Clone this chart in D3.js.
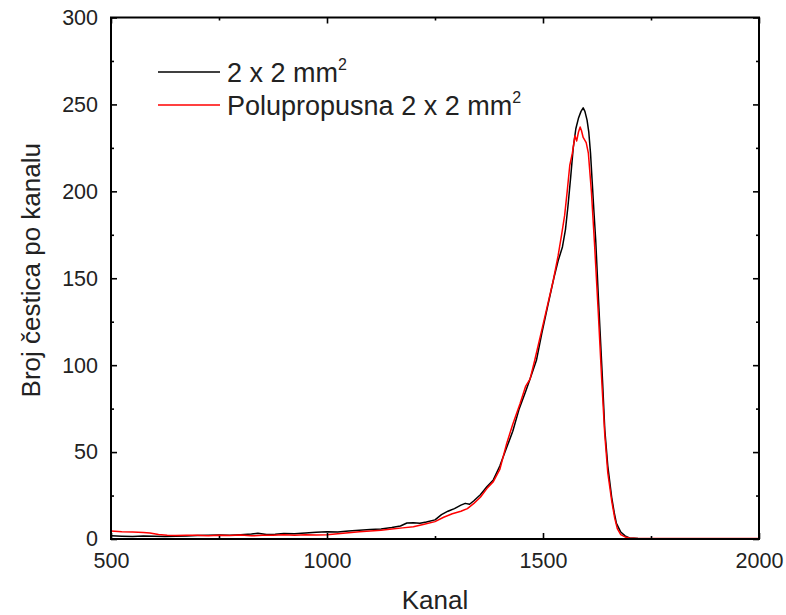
<!DOCTYPE html>
<html><head><meta charset="utf-8">
<script src="https://cdn.jsdelivr.net/npm/d3@7"></script>
<style>body{margin:0;background:#fff}svg{display:block}text{font-family:"Liberation Sans",Arial,sans-serif}</style>
</head><body><svg id="c" width="786" height="615"></svg>
<script>
const xTicks=[500,1000,1500,2000];
const xMinor=[750,1250,1750];
const yTicks=[0,50,100,150,200,250,300];
const yMinor=[25,75,125,175,225,275];
const seriesNames=["2 x 2 mm","Polupropusna 2 x 2 mm"];
const seriesColors=["#000000","#ff0000"];
const blackCh=[500,525,550,575,600,625,650,675,700,725,750,775,800,825,840,860,880,900,925,950,975,1000,1025,1050,1075,1100,1125,1150,1170,1185,1200,1215,1230,1250,1265,1280,1295,1310,1320,1330,1340,1355,1370,1385,1400,1415,1430,1445,1460,1470,1485,1497,1510,1525,1535,1545,1552,1558,1564,1570,1576,1582,1588,1593,1597,1602,1606,1610,1614,1618,1622,1628,1632,1638,1643,1650,1659,1665,1670,1680,1690,1700,1720,1750,1800,1850,1900,1950,2000];
const blackVal=[1.8,1.6,1.5,1.7,1.6,1.4,1.6,1.7,2.0,2.1,2.3,2.2,2.5,2.9,3.3,2.6,2.8,3.2,3.0,3.4,3.9,4.2,4.0,4.6,5.1,5.5,5.8,6.6,7.5,9.2,9.4,9.0,9.8,11.0,14.0,16.0,17.5,19.5,20.5,20.0,22.0,25.5,30,34,42,52,62,75,85,92,103,118,133,150,160,168,178,192,208,225,236,242,246,248,246,241,234,222,205,188,172,140,120,90,63,42,24,15,9,4,1.8,0.6,0.3,0.2,0.2,0.15,0.1,0.1,0.1];
const redCh=[500,525,550,575,590,610,630,650,675,700,725,750,775,800,825,850,875,900,925,950,975,1000,1025,1050,1075,1100,1125,1150,1175,1200,1225,1250,1270,1290,1310,1325,1340,1355,1370,1385,1400,1416,1430,1447,1460,1470,1481,1497,1510,1524,1535,1543,1550,1556,1562,1568,1574,1578,1582,1586,1589,1593,1600,1605,1612,1619,1628,1636,1643,1650,1659,1666,1672,1680,1690,1700,1720,1750,1800,1850,1900,1950,2000];
const redVal=[4.6,4.2,4.0,3.8,3.5,2.6,2.2,2.0,2.1,2.2,1.9,2.2,2.0,2.3,1.8,2.1,2.2,2.4,2.2,2.4,2.3,2.5,3.0,3.6,4.2,4.6,5.0,5.8,6.4,7.0,8.5,10.0,12.5,14.5,16.0,17.5,20.5,24,29,33,40,55,66,78,88,92,103,120,134,149,163,175,186,200,215,222,232,229,234,237,235,231,228,222,200,171,130,91,60,38,22,12,6,2.5,1.2,0.6,0.3,0.3,0.3,0.3,0.3,0.3,0.3];

const svg=d3.select("#c");
const L=111,R=759,T=17.5,B=539;
const x=d3.scaleLinear().domain([500,2000]).range([L,R]);
const y=d3.scaleLinear().domain([0,300]).range([B,T]);

svg.append("clipPath").attr("id","cp").append("rect").attr("x",L).attr("y",T).attr("width",R-L).attr("height",B-T);
const line=d3.line().x(d=>x(d[0])).y(d=>y(d[1]));
const data=[d3.zip(blackCh,blackVal),d3.zip(redCh,redVal)];
data.forEach((d,i)=>{
  svg.append("path").datum(d).attr("d",line).attr("fill","none").attr("stroke",seriesColors[i]).attr("stroke-width",1.5).attr("stroke-linejoin","round").attr("clip-path","url(#cp)");
});

// axes
const fs=21.5;
const gB=svg.append("g").attr("transform",`translate(0,${B})`).call(d3.axisBottom(x).tickValues(xTicks).tickSize(-6).tickPadding(14).tickFormat(d3.format("d")));
const gBm=svg.append("g").attr("transform",`translate(0,${B})`).call(d3.axisBottom(x).tickValues(xMinor).tickSize(-3).tickFormat(""));
const gT=svg.append("g").attr("transform",`translate(0,${T})`).call(d3.axisTop(x).tickValues(xTicks).tickSize(-6).tickFormat(""));
const gTm=svg.append("g").attr("transform",`translate(0,${T})`).call(d3.axisTop(x).tickValues(xMinor).tickSize(-3).tickFormat(""));
const gL=svg.append("g").attr("transform",`translate(${L},0)`).call(d3.axisLeft(y).tickValues(yTicks).tickSize(-6).tickPadding(13).tickFormat(d3.format("d")));
const gLm=svg.append("g").attr("transform",`translate(${L},0)`).call(d3.axisLeft(y).tickValues(yMinor).tickSize(-3).tickFormat(""));
const gR=svg.append("g").attr("transform",`translate(${R},0)`).call(d3.axisRight(y).tickValues(yTicks).tickSize(-6).tickFormat(""));
const gRm=svg.append("g").attr("transform",`translate(${R},0)`).call(d3.axisRight(y).tickValues(yMinor).tickSize(-3).tickFormat(""));
[gB,gBm,gT,gTm,gL,gLm,gR,gRm].forEach(g=>{
  g.select(".domain").remove();
  g.selectAll("line").attr("stroke","#000").attr("stroke-width",1.6);
  g.selectAll("text").attr("font-size",fs).attr("fill","#222").style("font-family","'Liberation Sans',Arial,sans-serif");
});
svg.append("rect").attr("x",L).attr("y",T).attr("width",R-L).attr("height",B-T).attr("fill","none").attr("stroke","#000").attr("stroke-width",2);

// titles
svg.append("text").attr("x",(L+R)/2).attr("y",609).attr("text-anchor","middle").attr("font-size",26).attr("fill","#222").text("Kanal");
svg.append("text").attr("transform",`translate(40,${(T+B)/2-8}) rotate(-90)`).attr("text-anchor","middle").attr("font-size",26).attr("fill","#222").text("Broj čestica po kanalu");

// legend
const legY=[72,105];
seriesNames.forEach((n,i)=>{
  svg.append("line").attr("x1",158).attr("x2",220).attr("y1",legY[i]).attr("y2",legY[i]).attr("stroke",seriesColors[i]).attr("stroke-width",1.5);
  const t=svg.append("text").attr("x",227).attr("y",legY[i]+9.5).attr("font-size",27).attr("fill","#222").text(n);
  t.append("tspan").attr("dy",-12).attr("font-size",16).text("2");
});
</script></body></html>
